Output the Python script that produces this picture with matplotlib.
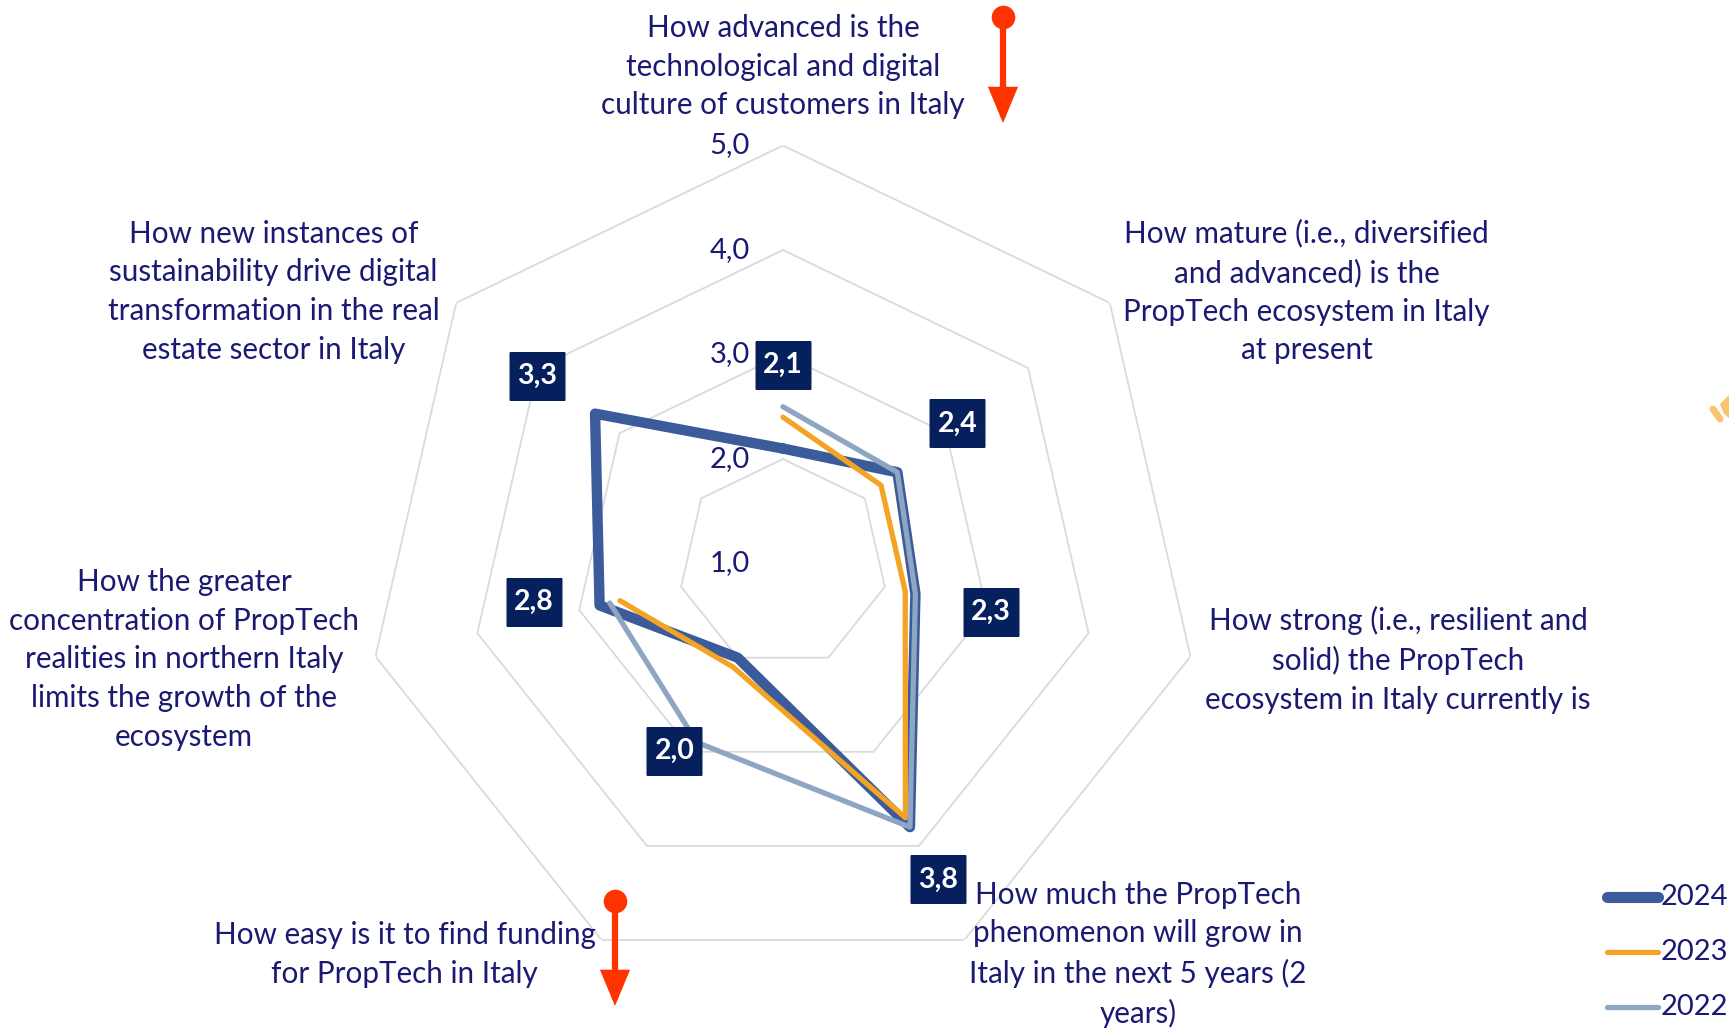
import numpy as np
import matplotlib.pyplot as plt
from matplotlib.lines import Line2D
from matplotlib.patches import FancyArrowPatch, Polygon

plt.rcParams['font.family'] = ['Lato', 'DejaVu Sans']

# Dati
categorie = [
    "How advanced is the\ntechnological and digital\nculture of customers in Italy",
    "How mature (i.e., diversified\nand advanced) is the\nPropTech ecosystem in Italy\nat present",
    "How strong (i.e., resilient and\nsolid) the PropTech\necosystem in Italy currently is",
    "How much the PropTech\nphenomenon will grow in\nItaly in the next 5 years (2\nyears)",
    "How easy is it to find funding\nfor PropTech in Italy",
    "How the greater\nconcentration of PropTech\nrealities in northern Italy\nlimits the growth of the\necosystem",
    "How new instances of\nsustainability drive digital\ntransformation in the real\nestate sector in Italy",
]
anni = ['2024', '2023', '2022']
valori_2024 = [2.1, 2.4, 2.3, 3.8, 2.0, 2.8, 3.3]
valori_2023 = [2.4, 2.2, 2.2, 3.7, 2.1, 2.6, np.nan]
valori_2022 = [2.5, 2.4, 2.3, 3.8, 2.9, 2.7, np.nan]
anelli = [2, 3, 4, 5]
etichette_anelli = ['1,0', '2,0', '3,0', '4,0', '5,0']

colori = ['#3C5B9A', '#F4A425', '#8EA5C3']
spessori = [7.5, 3.8, 3.8]
testo_col = '#1A1A72'

n = len(categorie)
theta = np.arange(n) * 2 * np.pi / n

fig = plt.figure(figsize=(17.29, 10.31), dpi=100)
ax = fig.add_axes([0.2111, 0.0480, 0.4835, 0.8109], projection='polar')
ax.set_theta_zero_location('N')
ax.set_theta_direction(-1)
ax.set_ylim(1, 5)
ax.grid(False)
ax.spines['polar'].set_visible(False)
ax.set_xticks([])
ax.set_yticks([])
ax.patch.set_alpha(0)

# griglia ettagonale
th_chiuso = np.append(theta, theta[0])
for r in anelli:
    ax.plot(th_chiuso, [r] * (n + 1), color='#DADADA', lw=1.3, zorder=1)

# etichette anelli
for i, lab in enumerate(etichette_anelli):
    ax.annotate(lab, xy=(0, i + 1), xytext=(-24, 0), textcoords='offset points',
                ha='right', va='center', fontsize=21, color=testo_col)

# serie
serie = [valori_2024, valori_2023, valori_2022]
for k, vals in enumerate(serie):
    v = np.array(vals, dtype=float)
    if not np.isnan(v).any():
        th = th_chiuso
        v = np.append(v, v[0])
    else:
        th = theta
    ax.plot(th, v, color=colori[k], lw=spessori[k], solid_joinstyle='round',
            solid_capstyle='round', zorder=3 + k)

# etichette dati 2024 (riquadro scuro + testo bianco)
pos_ang = [0, 51.2, 103.2, 153.8, 210.1, 261.2, 307.4]
pos_r = [2.90, 3.14, 3.04, 4.37, 3.07, 3.41, 3.96]
riquadro = [(-0.6, -0.5), (0.6, -0.5), (0.6, 0.5), (-0.6, 0.5), (-0.6, -0.5)]
ax.plot(np.deg2rad(pos_ang), pos_r, ls='none', marker=riquadro, ms=41,
        mfc='#06205E', mec='none', zorder=9)
for i, v in enumerate(valori_2024):
    ax.text(np.deg2rad(pos_ang[i]), pos_r[i], f'{v:.1f}'.replace('.', ','),
            ha='center', va='center', fontsize=20.5, fontweight='bold', color='white',
            zorder=10)

# etichette categorie
cat_pos = [(710, 60.5), (1185, 264.5), (1268, 598.5), (1032, 865.5),
           (367, 865.5), (167, 598), (248, 264.5)]
for lab, (x, y) in zip(categorie, cat_pos):
    fig.text(x / 1568, 1 - y / 935, lab, ha='center', va='center',
             multialignment='center', fontsize=21.3, color=testo_col, linespacing=1.46)

# legenda
leg_y = [0.1300, 0.0766, 0.0233]
leg_lw = [8, 3.8, 3.8]
for k, anno in enumerate(anni):
    fig.add_artist(Line2D([0.9295, 0.9590], [leg_y[k], leg_y[k]], transform=fig.transFigure,
                          color=colori[k], lw=leg_lw[k], solid_capstyle='round'))
    fig.text(0.9605, leg_y[k], anno, ha='left', va='center', fontsize=21, color=testo_col)

# frecce rosse
for x, y0, y1 in [(0.5801, 0.9835, 0.8807), (0.3557, 0.1261, 0.0243)]:
    fig.add_artist(FancyArrowPatch((x, y0), (x, y1), transform=fig.transFigure,
                                   arrowstyle='-|>,head_length=1.2,head_width=0.5',
                                   mutation_scale=15, lw=4.5, color='#FF3300',
                                   shrinkA=0, shrinkB=0, joinstyle='miter'))
    fig.add_artist(Line2D([x], [y0], transform=fig.transFigure, marker='o', ms=17,
                          color='#FF3300', mec='none'))

# frammento decorativo a destra
fig.add_artist(Line2D([1713 / 1729, 1720 / 1729], [1 - 409 / 1031, 1 - 419 / 1031],
                      transform=fig.transFigure, color='#F9C46B', lw=5, solid_capstyle='round'))
fig.add_artist(Polygon([(1720 / 1729, 1 - 404 / 1031), (1729 / 1729, 1 - 395 / 1031),
                        (1729 / 1729, 1 - 418 / 1031), (1724 / 1729, 1 - 414 / 1031)],
                       closed=True, transform=fig.transFigure, fc='#F9C46B', ec='none'))

fig.savefig('out.png', dpi=100, facecolor='white')
